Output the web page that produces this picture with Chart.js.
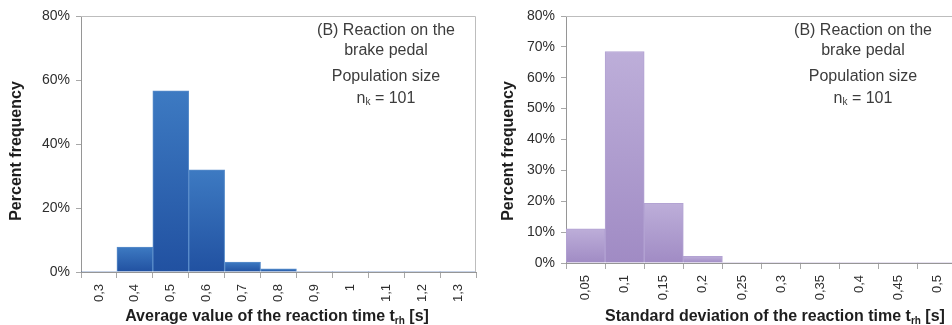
<!DOCTYPE html>
<html lang="en">
<head>
<meta charset="UTF-8">
<script src="https://cdn.jsdelivr.net/npm/chart.js"></script>
<title>Reaction time histograms</title>
<style>
    body { margin: 0; background: #fff; }
    .wrap { position: absolute; top: 0; height: 325px; overflow: hidden; }
    #leftWrap { left: 0; width: 477px; }
    #rightWrap { left: 477px; width: 475px; }
</style>
</head>
<body>
<div class="wrap" id="leftWrap"><canvas id="avgChart" width="477" height="325"></canvas></div>
<div class="wrap" id="rightWrap"><canvas id="sdChart" width="490" height="325"></canvas></div>
<script>
// histogram (a): average reaction time
const avgLabels = ['0,3', '0,4', '0,5', '0,6', '0,7', '0,8', '0,9', '1', '1,1', '1,2', '1,3'];
const avgPercent = [0, 7.8, 56.6, 31.9, 3.1, 1.0, 0, 0, 0, 0, 0];
const avgTicks = [0, 20, 40, 60, 80];

// histogram (b): standard deviation of reaction time
const sdLabels = ['0,05', '0,1', '0,15', '0,2', '0,25', '0,3', '0,35', '0,4', '0,45', '0,5'];
const sdPercent = [11.1, 68.5, 19.3, 2.2, 0, 0, 0, 0, 0, 0];
const sdTicks = [0, 10, 20, 30, 40, 50, 60, 70, 80];

const noteLines = ['(B) Reaction on the', 'brake pedal', 'Population size'];
const sampleSize = '101';

const FONT = "'Liberation Sans', Arial, sans-serif";

// per-bar vertical gradient (light top, darker bottom)
function barFill(top, bottom) {
    return function (ctx) {
        const chart = ctx.chart;
        if (!chart.chartArea || ctx.raw == null) return bottom;
        const y = chart.scales.y;
        const y0 = y.getPixelForValue(ctx.raw);
        const y1 = y.getPixelForValue(0);
        if (y1 - y0 < 1) return bottom;
        const g = chart.ctx.createLinearGradient(0, y0, 0, y1);
        g.addColorStop(0, top);
        g.addColorStop(1, bottom);
        return g;
    };
}

// frame, axis titles and the note in the corner
const textPlugin = {
    id: 'texts',
    afterDraw(chart, args, o) {
        const c = chart.ctx, a = chart.chartArea;
        c.save();
        c.strokeStyle = '#bdbdbd';
        c.lineWidth = 1;
        c.beginPath();
        c.moveTo(a.left, a.top + 0.5);
        c.lineTo(a.right - 0.5, a.top + 0.5);
        c.lineTo(a.right - 0.5, a.bottom);
        c.stroke();

        // y title
        c.fillStyle = '#1e1e1e';
        c.font = 'bold 16px ' + FONT;
        c.textAlign = 'center';
        c.textBaseline = 'middle';
        c.save();
        c.translate(o.yTitleX, o.yTitleY);
        c.rotate(-Math.PI / 2);
        c.fillText('Percent frequency', 0, 0);
        c.restore();

        // x title with subscript
        c.textAlign = 'left';
        c.textBaseline = 'alphabetic';
        const main = o.xTitle + ' t', sub = 'rh', tail = ' [s]';
        c.font = 'bold 16px ' + FONT;
        const w1 = c.measureText(main).width, w3 = c.measureText(tail).width;
        c.font = 'bold 10px ' + FONT;
        const w2 = c.measureText(sub).width;
        let x = o.xTitleX - (w1 + w2 + w3) / 2;
        const base = o.xTitleY;
        c.font = 'bold 16px ' + FONT;
        c.fillText(main, x, base);
        x += w1;
        c.font = 'bold 10px ' + FONT;
        c.fillText(sub, x, base + 3);
        x += w2;
        c.font = 'bold 16px ' + FONT;
        c.fillText(tail, x, base);

        // note
        c.fillStyle = '#3c3c3c';
        c.font = '16px ' + FONT;
        c.textAlign = 'center';
        c.textBaseline = 'middle';
        c.fillText(noteLines[0], o.noteX, 31);
        c.fillText(noteLines[1], o.noteX, 51);
        c.fillText(noteLines[2], o.noteX, 77);
        const eq = ' = ' + sampleSize;
        const wn = c.measureText('n').width, we = c.measureText(eq).width;
        c.font = '10px ' + FONT;
        const wk = c.measureText('k').width;
        let nx = o.noteX - (wn + wk + we) / 2;
        c.textAlign = 'left';
        c.textBaseline = 'alphabetic';
        c.font = '16px ' + FONT;
        c.fillText('n', nx, 103);
        c.font = '10px ' + FONT;
        c.fillText('k', nx + wn, 105);
        c.font = '16px ' + FONT;
        c.fillText(eq, nx + wn + wk, 103);
        c.restore();
    }
};

function makeChart(id, labels, values, ticks, step, colors, dims, texts) {
    return new Chart(document.getElementById(id), {
        type: 'bar',
        data: {
            labels: labels,
            datasets: [{
                data: values,
                backgroundColor: barFill(colors[0], colors[1]),
                borderColor: colors[2],
                borderWidth: ctx => (ctx.raw > 0 ? 1 : 0),
                barPercentage: 1,
                categoryPercentage: 1
            }]
        },
        options: {
            responsive: false,
            animation: false,
            layout: { padding: { top: 16, right: dims.right, left: 0, bottom: 0 } },
            plugins: {
                legend: { display: false },
                tooltip: { enabled: false },
                texts: texts
            },
            scales: {
                x: {
                    grid: { offset: true, drawOnChartArea: false, drawTicks: true, tickLength: 6, color: '#a8a8a8' },
                    border: { color: '#969696' },
                    ticks: {
                        autoSkip: false, minRotation: 90, maxRotation: 90, padding: 6,
                        color: '#2e2e2e', font: { family: FONT, size: 13 }
                    },
                    afterFit: s => { s.height = dims.bottom; s.paddingLeft = 0; s.paddingRight = 0; }
                },
                y: {
                    min: 0,
                    max: ticks[ticks.length - 1],
                    grid: { drawOnChartArea: false, drawTicks: true, tickLength: 5, color: '#a8a8a8' },
                    border: { color: '#969696' },
                    ticks: {
                        stepSize: step, padding: 6,
                        color: '#2e2e2e', font: { family: FONT, size: 14 },
                        callback: v => v + '%'
                    },
                    afterFit: s => { s.width = dims.left; s.paddingTop = 0; s.paddingBottom = 0; }
                }
            }
        },
        plugins: [textPlugin]
    });
}

makeChart('avgChart', avgLabels, avgPercent, avgTicks, 20,
    ['#3d7ac2', '#2151a1', '#5a8dca'],
    { left: 81, right: 1, bottom: 53 },
    { yTitleX: 17, yTitleY: 151, xTitle: 'Average value of the reaction time', xTitleX: 277, xTitleY: 321, noteX: 386 });

makeChart('sdChart', sdLabels, sdPercent, sdTicks, 10,
    ['#bdaed9', '#a08bc4', '#b3a3d3'],
    { left: 89, right: 10, bottom: 62 },
    { yTitleX: 32, yTitleY: 151, xTitle: 'Standard deviation of the reaction time', xTitleX: 298, xTitleY: 321, noteX: 386 });
</script>
</body>
</html>
